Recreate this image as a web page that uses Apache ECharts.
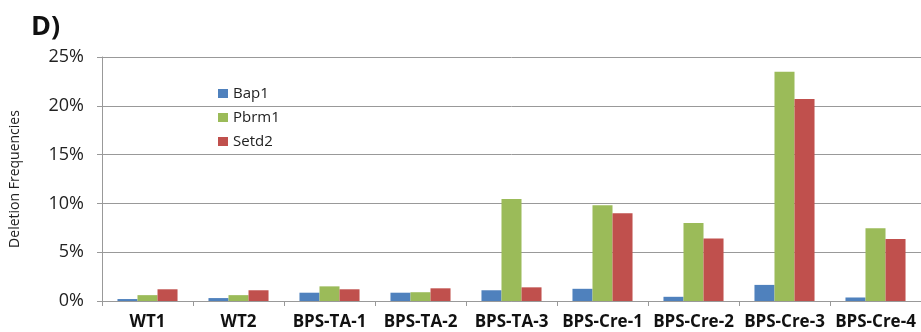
<!DOCTYPE html>
<html>
<head>
<meta charset="utf-8">
<script src="https://cdn.jsdelivr.net/npm/echarts@6/dist/echarts.min.js"></script>
<style>
  html, body { margin: 0; padding: 0; background: #fff; }
  #chart { width: 921px; height: 332px; }
</style>
</head>
<body>
<div id="chart"></div>
<script>
// Sample groups along the x axis
const categories = ['WT1', 'WT2', 'BPS-TA-1', 'BPS-TA-2', 'BPS-TA-3', 'BPS-Cre-1', 'BPS-Cre-2', 'BPS-Cre-3', 'BPS-Cre-4'];

// Deletion frequencies (%) per gene
const bap1  = [0.2, 0.3, 0.85, 0.85, 1.1, 1.25, 0.43, 1.65, 0.36];
const pbrm1 = [0.6, 0.6, 1.5, 0.9, 10.45, 9.8, 8.0, 23.5, 7.45];
const setd2 = [1.2, 1.1, 1.2, 1.3, 1.4, 9.0, 6.4, 20.7, 6.35];

const seriesNames = ['Bap1', 'Pbrm1', 'Setd2'];
const seriesColors = ['#4F81BD', '#9BBB59', '#C0504D'];
const seriesData = [bap1, pbrm1, setd2];

const chart = echarts.init(document.getElementById('chart'));
const font = '"Open Sans", "Liberation Sans", sans-serif';

chart.setOption({
  animation: false,
  textStyle: { fontFamily: font },
  title: {
    text: 'D)',
    left: 26,
    top: 9,
    textStyle: { fontSize: 27, fontWeight: 'bold', color: '#111', fontFamily: font }
  },
  legend: {
    orient: 'vertical',
    left: 213,
    top: 81,
    itemWidth: 10,
    itemHeight: 9,
    itemGap: 9,
    icon: 'rect',
    textStyle: { fontSize: 15, color: '#222', fontFamily: font },
    data: seriesNames
  },
  grid: { left: 100, right: 0, top: 57, bottom: 31 },
  xAxis: {
    type: 'category',
    data: categories,
    axisLine: { lineStyle: { color: '#999', width: 1 } },
    axisTick: { show: true, length: 5, lineStyle: { color: '#999' } },
    axisLabel: {
      interval: 0,
      margin: 13,
      fontSize: 17,
      fontWeight: 'bold',
      color: '#111',
      fontFamily: font
    }
  },
  yAxis: {
    type: 'value',
    min: 0,
    max: 25,
    interval: 5,
    name: 'Deletion Frequencies',
    nameLocation: 'middle',
    nameGap: 80,
    nameRotate: 90,
    nameTextStyle: { fontSize: 14, color: '#222', fontFamily: font },
    axisLine: { show: true, lineStyle: { color: '#999', width: 1 } },
    axisTick: { show: true, length: 5, lineStyle: { color: '#999' } },
    splitLine: { lineStyle: { color: '#999', width: 1 } },
    axisLabel: {
      formatter: '{value}%',
      margin: 18,
      fontSize: 18,
      color: '#222',
      fontFamily: font
    }
  },
  series: seriesNames.map((name, i) => ({
    name: name,
    type: 'bar',
    data: seriesData[i],
    barGap: '0%',
    barCategoryGap: '34%',
    itemStyle: { color: seriesColors[i] }
  }))
});
</script>
</body>
</html>
